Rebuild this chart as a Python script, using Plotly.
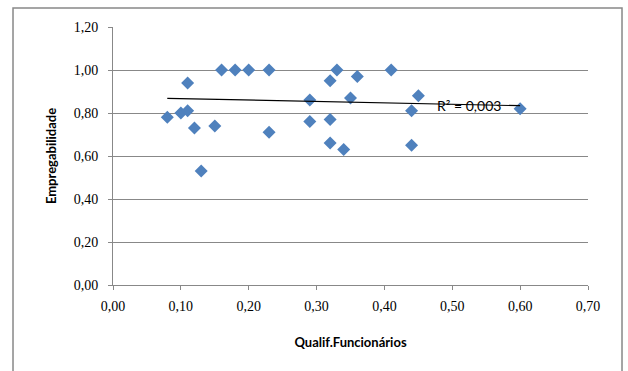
import plotly.graph_objects as go

qualif = [0.08, 0.10, 0.11, 0.11, 0.12, 0.13, 0.15, 0.16, 0.18, 0.20, 0.23, 0.23,
          0.29, 0.29, 0.32, 0.32, 0.32, 0.33, 0.34, 0.35, 0.36, 0.41, 0.44, 0.44,
          0.45, 0.60]
empreg = [0.78, 0.80, 0.81, 0.94, 0.73, 0.53, 0.74, 1.00, 1.00, 1.00, 1.00, 0.71,
          0.86, 0.76, 0.95, 0.77, 0.66, 1.00, 0.63, 0.87, 0.97, 1.00, 0.81, 0.65,
          0.88, 0.82]
# linear trendline as drawn in the original
trend_x = [0.08, 0.60]
trend_y = [0.868, 0.834]
x_ticks = [0.0, 0.1, 0.2, 0.3, 0.4, 0.5, 0.6, 0.7]
y_ticks = [0.0, 0.2, 0.4, 0.6, 0.8, 1.0, 1.2]

fig = go.Figure()
fig.add_trace(go.Scatter(x=qualif, y=empreg, mode="markers",
                         marker=dict(symbol="diamond", size=10, color="#4F81BD"),
                         showlegend=False))
fig.add_trace(go.Scatter(x=trend_x, y=trend_y, mode="lines",
                         line=dict(color="black", width=1.2), showlegend=False))

fig.add_annotation(x=0.525, y=0.837, text="R² = 0,003", showarrow=False,
                   font=dict(family="Lato", size=14, color="black"))

tickfont = dict(family="Liberation Serif", size=14, color="black")
titlefont = dict(family="Lato", size=13, color="black", weight="bold")

fig.update_layout(
    width=628, height=371,
    margin=dict(l=113, r=40, t=27, b=86),
    paper_bgcolor="white", plot_bgcolor="white",
    separators=",.",
    xaxis=dict(range=[0, 0.7], tickvals=x_ticks, tickformat=".2f",
               showgrid=False, zeroline=False, showline=True, linecolor="#888",
               ticks="outside", ticklen=4, tickcolor="#888",
               ticklabelstandoff=4,
               tickfont=tickfont,
               title=dict(text="Qualif.Funcionários", font=titlefont, standoff=25)),
    yaxis=dict(range=[0, 1.2], tickvals=y_ticks, tickformat=".2f",
               showgrid=True, gridcolor="#888", gridwidth=1,
               zeroline=False, showline=True, linecolor="#888",
               ticks="outside", ticklen=4, tickcolor="#888",
               ticklabelstandoff=7,
               tickfont=tickfont,
               title=dict(text="Empregabilidade", font=titlefont, standoff=14)),
    shapes=[dict(type="rect", xref="paper", yref="paper",
                 x0=-0.2105, x1=1.0716, y0=-0.4, y1=1.0736,
                 line=dict(color="#888", width=1.5), fillcolor="rgba(0,0,0,0)")],
)

fig.write_html("out.html")
